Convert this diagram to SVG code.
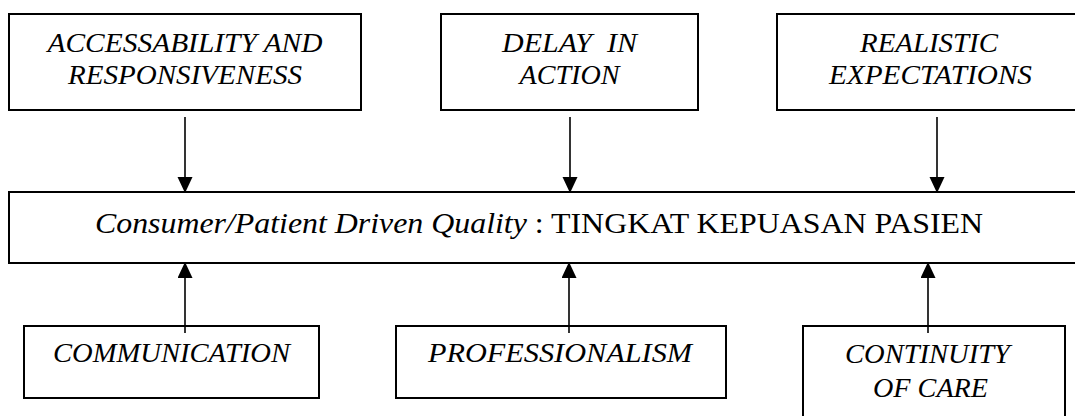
<svg xmlns="http://www.w3.org/2000/svg" width="1075" height="416" viewBox="0 0 1075 416">
  <style>
    .box { fill: #ffffff; stroke: #000000; stroke-width: 2; }
    .lbl { font-style: italic; font-size: 28px; fill: #000000; text-anchor: middle; }
    .main { font-size: 30px; fill: #000000; text-anchor: middle; }
    .link { stroke: #000000; stroke-width: 1.6; fill: none; }
  </style>
  <defs>
    <marker id="head" markerUnits="userSpaceOnUse" markerWidth="16" markerHeight="18" refX="14" refY="7.5" orient="auto">
      <path d="M0,0 L16,7.5 L0,15 Z" fill="#000000"/>
    </marker>
  </defs>
  <rect width="1075" height="416" fill="#ffffff"/>

  <g font-family="Liberation Serif, serif">
  <!-- upper factors -->
  <g id="accessability">
    <rect class="box" x="9" y="14" width="352" height="96"/>
    <text class="lbl" x="185" y="52" textLength="275" lengthAdjust="spacingAndGlyphs">ACCESSABILITY AND</text>
    <text class="lbl" x="185" y="84" textLength="234" lengthAdjust="spacingAndGlyphs">RESPONSIVENESS</text>
  </g>
  <g id="delay">
    <rect class="box" x="441" y="14" width="257" height="96"/>
    <text class="lbl" x="569.5" y="52" xml:space="preserve" textLength="135" lengthAdjust="spacingAndGlyphs">DELAY  IN</text>
    <text class="lbl" x="569.5" y="84" textLength="100" lengthAdjust="spacingAndGlyphs">ACTION</text>
  </g>
  <g id="realistic">
    <rect class="box" x="777" y="14" width="310" height="96"/>
    <text class="lbl" x="929" y="52" textLength="138" lengthAdjust="spacingAndGlyphs">REALISTIC</text>
    <text class="lbl" x="930.5" y="84" textLength="203" lengthAdjust="spacingAndGlyphs">EXPECTATIONS</text>
  </g>

  <!-- central outcome -->
  <g id="quality">
    <rect class="box" x="9" y="192" width="1080" height="71"/>
    <text class="main" x="539" y="233" textLength="888" lengthAdjust="spacingAndGlyphs"><tspan font-style="italic">Consumer/Patient Driven Quality</tspan> : TINGKAT KEPUASAN PASIEN</text>
  </g>

  <!-- lower factors -->
  <g id="communication">
    <rect class="box" x="24" y="326" width="295" height="72"/>
    <text class="lbl" x="171.5" y="362" textLength="237" lengthAdjust="spacingAndGlyphs">COMMUNICATION</text>
  </g>
  <g id="professionalism">
    <rect class="box" x="396" y="326" width="330" height="72"/>
    <text class="lbl" x="560" y="362" textLength="264" lengthAdjust="spacingAndGlyphs">PROFESSIONALISM</text>
  </g>
  <g id="continuity">
    <rect class="box" x="803" y="326" width="262" height="100"/>
    <text class="lbl" x="927.5" y="363" textLength="165" lengthAdjust="spacingAndGlyphs">CONTINUITY</text>
    <text class="lbl" x="930.5" y="397" textLength="115" lengthAdjust="spacingAndGlyphs">OF CARE</text>
  </g>
  </g>

  <!-- connectors -->
  <g id="connectors">
    <line class="link" x1="185" y1="117" x2="185" y2="191" marker-end="url(#head)"/>
    <line class="link" x1="570" y1="117" x2="570" y2="191" marker-end="url(#head)"/>
    <line class="link" x1="937" y1="117" x2="937" y2="191" marker-end="url(#head)"/>
    <line class="link" x1="185" y1="333" x2="185" y2="264" marker-end="url(#head)"/>
    <line class="link" x1="569" y1="333" x2="569" y2="264" marker-end="url(#head)"/>
    <line class="link" x1="928" y1="333" x2="928" y2="264" marker-end="url(#head)"/>
  </g>
</svg>
